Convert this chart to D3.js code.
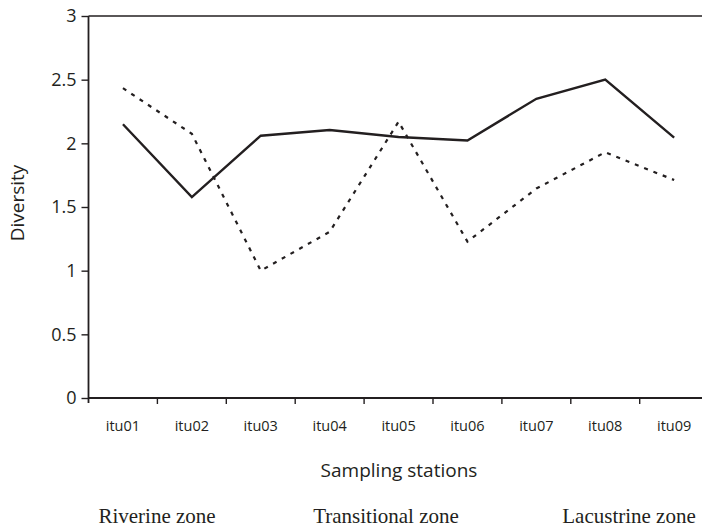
<!DOCTYPE html>
<html>
<head>
<meta charset="utf-8">
<script src="https://cdn.jsdelivr.net/npm/d3@7"></script>
<style>
  body { margin: 0; background: #fff; }
  svg { display: block; }
  .tick text { fill: #231f20; }
</style>
</head>
<body>
<div id="main"></div>
<script>
const stations = ['itu01', 'itu02', 'itu03', 'itu04', 'itu05', 'itu06', 'itu07', 'itu08', 'itu09'];
const solidValues = [2.15, 1.577, 2.06, 2.105, 2.05, 2.022, 2.35, 2.5, 2.045];
const dottedValues = [2.433, 2.075, 1.0, 1.305, 2.17, 1.228, 1.645, 1.93, 1.712];
const yTicks = [0, 0.5, 1, 1.5, 2, 2.5, 3];
const zones = ['Riverine zone', 'Transitional zone', 'Lacustrine zone'];

const W = 702, H = 530, ink = '#231f20';
const m = { top: 16, left: 88.5, bottom: 132 };
const bandW = 68.9;

const svg = d3.select('#main').append('svg')
    .attr('width', W)
    .attr('height', H);

const x = d3.scaleBand()
    .domain(stations)
    .range([m.left, m.left + bandW * stations.length]);

const y = d3.scaleLinear()
    .domain([0, 3])
    .range([H - m.bottom, m.top]);

// top border
svg.append('line')
    .attr('x1', m.left).attr('x2', W)
    .attr('y1', y(3)).attr('y2', y(3))
    .attr('stroke', ink).attr('stroke-width', 1.6);

// y axis
const yAxis = svg.append('g')
    .attr('transform', 'translate(' + m.left + ',0)')
    .call(d3.axisLeft(y).tickValues(yTicks).tickSize(7).tickPadding(5).tickFormat(d3.format('')));
yAxis.select('.domain').remove();
yAxis.selectAll('.tick line').attr('stroke', ink).attr('stroke-width', 1.4);
yAxis.selectAll('.tick text')
    .attr('font-family', '"Open Sans", sans-serif')
    .attr('font-size', 18);
svg.append('line')
    .attr('x1', m.left).attr('x2', m.left)
    .attr('y1', y(3)).attr('y2', y(0) + 5)
    .attr('stroke', ink).attr('stroke-width', 1.8);

// x axis
svg.append('line')
    .attr('x1', m.left).attr('x2', W)
    .attr('y1', y(0)).attr('y2', y(0))
    .attr('stroke', ink).attr('stroke-width', 1.8);
svg.append('g')
    .selectAll('line')
    .data(stations.slice(1))
    .enter()
    .append('line')
    .attr('x1', d => x(d)).attr('x2', d => x(d))
    .attr('y1', y(0)).attr('y2', y(0) + 6)
    .attr('stroke', ink).attr('stroke-width', 1.4);

const xAxis = svg.append('g')
    .attr('transform', 'translate(0,' + y(0) + ')')
    .call(d3.axisBottom(x).tickSize(0).tickPadding(23));
xAxis.select('.domain').remove();
xAxis.selectAll('.tick text')
    .attr('font-family', '"Open Sans", sans-serif')
    .attr('font-size', 14.5);

// lines
const line = vals => d3.line()
    .x((d, i) => x(stations[i]) + x.bandwidth() / 2)
    .y(d => y(d))(vals);

svg.append('path')
    .attr('d', line(dottedValues))
    .attr('fill', 'none')
    .attr('stroke', ink)
    .attr('stroke-width', 2.2)
    .attr('stroke-dasharray', '4,6');

svg.append('path')
    .attr('d', line(solidValues))
    .attr('fill', 'none')
    .attr('stroke', ink)
    .attr('stroke-width', 2.4)
    .attr('stroke-linejoin', 'miter');

// axis titles
svg.append('text')
    .attr('x', 399).attr('y', 477)
    .attr('text-anchor', 'middle')
    .attr('font-family', '"Open Sans", sans-serif')
    .attr('font-size', 19)
    .attr('fill', ink)
    .text('Sampling stations');

svg.append('text')
    .attr('transform', 'translate(24,' + 203 + ') rotate(-90)')
    .attr('text-anchor', 'middle')
    .attr('font-family', '"Open Sans", sans-serif')
    .attr('font-size', 19)
    .attr('fill', ink)
    .text('Diversity');

// zone labels
const zoneX = d3.scaleOrdinal().domain(zones).range([157, 386, 629]);
svg.append('g')
    .selectAll('text')
    .data(zones)
    .enter()
    .append('text')
    .attr('x', d => zoneX(d))
    .attr('y', 523)
    .attr('text-anchor', 'middle')
    .attr('font-family', '"Liberation Serif", "Times New Roman", serif')
    .attr('font-size', 21)
    .attr('fill', ink)
    .text(d => d);
</script>
</body>
</html>
